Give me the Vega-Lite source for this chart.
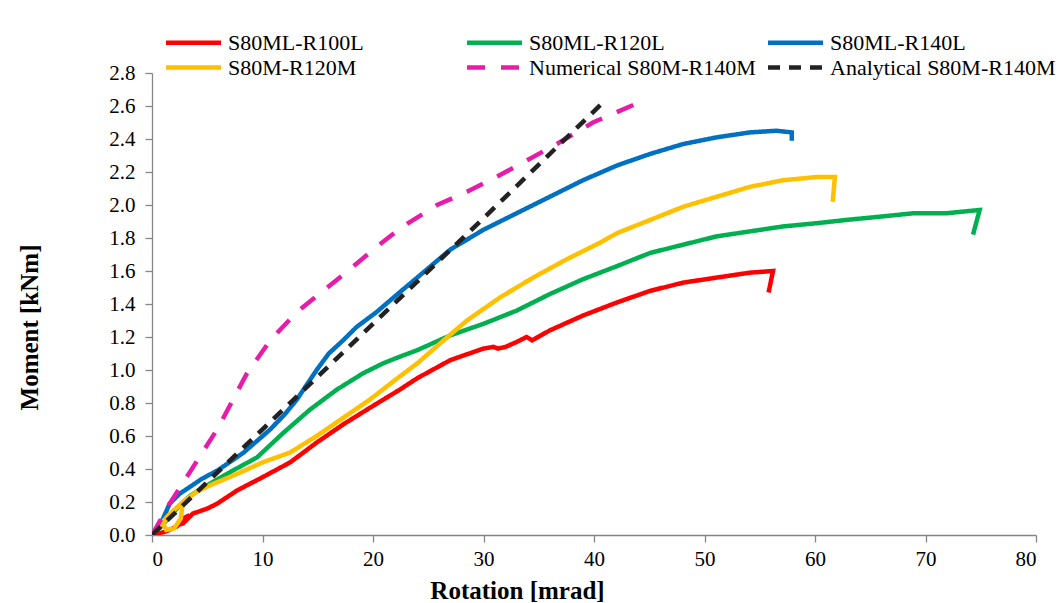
{
  "$schema": "https://vega.github.io/schema/vega-lite/v6.json",
  "width": 884,
  "height": 462,
  "autosize": {"type": "none"},
  "padding": {"left": 152, "top": 73, "right": 26, "bottom": 68},
  "background": "white",
  "config": {
    "view": {"stroke": null},
    "font": "Liberation Serif",
    "axis": {"grid": false, "domainColor": "#868686", "tickColor": "#868686", "domainWidth": 1.3, "tickWidth": 1.3, "tickSize": 7, "labelFont": "Liberation Serif", "labelFontSize": 21, "labelColor": "#000000", "titleFont": "Liberation Serif", "titleFontSize": 25, "titleFontWeight": "bold", "titleColor": "#000000"}
  },
  "data": {"values": [
    {"s":"S80ML-R100L","i":1,"x":0,"y":0},{"s":"S80ML-R100L","i":2,"x":1.2,"y":0.02},{"s":"S80ML-R100L","i":3,"x":2.2,"y":0.05},{"s":"S80ML-R100L","i":4,"x":3.0,"y":0.09},{"s":"S80ML-R100L","i":5,"x":3.4,"y":0.12},{"s":"S80ML-R100L","i":6,"x":2.8,"y":0.10},{"s":"S80ML-R100L","i":7,"x":2.3,"y":0.06},{"s":"S80ML-R100L","i":8,"x":2.8,"y":0.07},{"s":"S80ML-R100L","i":9,"x":3.7,"y":0.13},{"s":"S80ML-R100L","i":10,"x":5.0,"y":0.16},{"s":"S80ML-R100L","i":11,"x":5.9,"y":0.19},{"s":"S80ML-R100L","i":12,"x":7.7,"y":0.27},{"s":"S80ML-R100L","i":13,"x":10.0,"y":0.35},{"s":"S80ML-R100L","i":14,"x":12.5,"y":0.44},{"s":"S80ML-R100L","i":15,"x":14.9,"y":0.56},{"s":"S80ML-R100L","i":16,"x":17.3,"y":0.67},{"s":"S80ML-R100L","i":17,"x":19.7,"y":0.77},{"s":"S80ML-R100L","i":18,"x":22.4,"y":0.88},{"s":"S80ML-R100L","i":19,"x":24.0,"y":0.95},{"s":"S80ML-R100L","i":20,"x":27.0,"y":1.06},{"s":"S80ML-R100L","i":21,"x":30.0,"y":1.13},{"s":"S80ML-R100L","i":22,"x":30.9,"y":1.14},{"s":"S80ML-R100L","i":23,"x":31.3,"y":1.13},{"s":"S80ML-R100L","i":24,"x":32.0,"y":1.14},{"s":"S80ML-R100L","i":25,"x":33.0,"y":1.17},{"s":"S80ML-R100L","i":26,"x":33.9,"y":1.20},{"s":"S80ML-R100L","i":27,"x":34.4,"y":1.18},{"s":"S80ML-R100L","i":28,"x":36.0,"y":1.24},{"s":"S80ML-R100L","i":29,"x":39.0,"y":1.33},{"s":"S80ML-R100L","i":30,"x":42.1,"y":1.41},{"s":"S80ML-R100L","i":31,"x":45.1,"y":1.48},{"s":"S80ML-R100L","i":32,"x":48.1,"y":1.53},{"s":"S80ML-R100L","i":33,"x":51.1,"y":1.56},{"s":"S80ML-R100L","i":34,"x":54.1,"y":1.59},{"s":"S80ML-R100L","i":35,"x":56.2,"y":1.60},{"s":"S80ML-R100L","i":36,"x":55.8,"y":1.47},
    {"s":"S80ML-R120L","i":1,"x":0,"y":0},{"s":"S80ML-R120L","i":2,"x":0.8,"y":0.05},{"s":"S80ML-R120L","i":3,"x":1.6,"y":0.11},{"s":"S80ML-R120L","i":4,"x":2.5,"y":0.18},{"s":"S80ML-R120L","i":5,"x":3.5,"y":0.24},{"s":"S80ML-R120L","i":6,"x":5.2,"y":0.31},{"s":"S80ML-R120L","i":7,"x":7.3,"y":0.39},{"s":"S80ML-R120L","i":8,"x":9.5,"y":0.47},{"s":"S80ML-R120L","i":9,"x":11.9,"y":0.62},{"s":"S80ML-R120L","i":10,"x":14.3,"y":0.76},{"s":"S80ML-R120L","i":11,"x":16.7,"y":0.88},{"s":"S80ML-R120L","i":12,"x":19.1,"y":0.98},{"s":"S80ML-R120L","i":13,"x":20.9,"y":1.04},{"s":"S80ML-R120L","i":14,"x":22.4,"y":1.08},{"s":"S80ML-R120L","i":15,"x":24.0,"y":1.12},{"s":"S80ML-R120L","i":16,"x":27.0,"y":1.21},{"s":"S80ML-R120L","i":17,"x":30.0,"y":1.28},{"s":"S80ML-R120L","i":18,"x":33.0,"y":1.36},{"s":"S80ML-R120L","i":19,"x":36.0,"y":1.46},{"s":"S80ML-R120L","i":20,"x":39.0,"y":1.55},{"s":"S80ML-R120L","i":21,"x":42.1,"y":1.63},{"s":"S80ML-R120L","i":22,"x":45.1,"y":1.71},{"s":"S80ML-R120L","i":23,"x":48.1,"y":1.76},{"s":"S80ML-R120L","i":24,"x":51.1,"y":1.81},{"s":"S80ML-R120L","i":25,"x":54.1,"y":1.84},{"s":"S80ML-R120L","i":26,"x":57.1,"y":1.87},{"s":"S80ML-R120L","i":27,"x":60.2,"y":1.89},{"s":"S80ML-R120L","i":28,"x":62.9,"y":1.91},{"s":"S80ML-R120L","i":29,"x":66.0,"y":1.93},{"s":"S80ML-R120L","i":30,"x":68.9,"y":1.95},{"s":"S80ML-R120L","i":31,"x":71.9,"y":1.95},{"s":"S80ML-R120L","i":32,"x":74.9,"y":1.97},{"s":"S80ML-R120L","i":33,"x":74.3,"y":1.82},
    {"s":"S80ML-R140L","i":1,"x":0,"y":0},{"s":"S80ML-R140L","i":2,"x":0.5,"y":0.04},{"s":"S80ML-R140L","i":3,"x":1.0,"y":0.10},{"s":"S80ML-R140L","i":4,"x":1.6,"y":0.19},{"s":"S80ML-R140L","i":5,"x":2.5,"y":0.25},{"s":"S80ML-R140L","i":6,"x":3.4,"y":0.29},{"s":"S80ML-R140L","i":7,"x":4.5,"y":0.34},{"s":"S80ML-R140L","i":8,"x":5.9,"y":0.39},{"s":"S80ML-R140L","i":9,"x":7.0,"y":0.44},{"s":"S80ML-R140L","i":10,"x":8.3,"y":0.50},{"s":"S80ML-R140L","i":11,"x":9.5,"y":0.57},{"s":"S80ML-R140L","i":12,"x":10.7,"y":0.64},{"s":"S80ML-R140L","i":13,"x":12.0,"y":0.73},{"s":"S80ML-R140L","i":14,"x":13.1,"y":0.82},{"s":"S80ML-R140L","i":15,"x":14.9,"y":1.00},{"s":"S80ML-R140L","i":16,"x":16.0,"y":1.10},{"s":"S80ML-R140L","i":17,"x":17.3,"y":1.18},{"s":"S80ML-R140L","i":18,"x":18.5,"y":1.26},{"s":"S80ML-R140L","i":19,"x":20.3,"y":1.35},{"s":"S80ML-R140L","i":20,"x":22.4,"y":1.47},{"s":"S80ML-R140L","i":21,"x":24.0,"y":1.56},{"s":"S80ML-R140L","i":22,"x":27.0,"y":1.73},{"s":"S80ML-R140L","i":23,"x":30.0,"y":1.85},{"s":"S80ML-R140L","i":24,"x":33.0,"y":1.95},{"s":"S80ML-R140L","i":25,"x":36.0,"y":2.05},{"s":"S80ML-R140L","i":26,"x":39.0,"y":2.15},{"s":"S80ML-R140L","i":27,"x":42.1,"y":2.24},{"s":"S80ML-R140L","i":28,"x":45.1,"y":2.31},{"s":"S80ML-R140L","i":29,"x":48.1,"y":2.37},{"s":"S80ML-R140L","i":30,"x":51.1,"y":2.41},{"s":"S80ML-R140L","i":31,"x":54.1,"y":2.44},{"s":"S80ML-R140L","i":32,"x":56.5,"y":2.45},{"s":"S80ML-R140L","i":33,"x":57.9,"y":2.44},{"s":"S80ML-R140L","i":34,"x":57.9,"y":2.39},
    {"s":"S80M-R120M","i":1,"x":0,"y":0},{"s":"S80M-R120M","i":2,"x":0.7,"y":0.06},{"s":"S80M-R120M","i":3,"x":1.5,"y":0.12},{"s":"S80M-R120M","i":4,"x":2.3,"y":0.17},{"s":"S80M-R120M","i":5,"x":2.8,"y":0.20},{"s":"S80M-R120M","i":6,"x":2.6,"y":0.10},{"s":"S80M-R120M","i":7,"x":2.0,"y":0.04},{"s":"S80M-R120M","i":8,"x":1.3,"y":0.03},{"s":"S80M-R120M","i":9,"x":1.0,"y":0.07},{"s":"S80M-R120M","i":10,"x":1.8,"y":0.14},{"s":"S80M-R120M","i":11,"x":2.8,"y":0.20},{"s":"S80M-R120M","i":12,"x":4.0,"y":0.26},{"s":"S80M-R120M","i":13,"x":5.2,"y":0.30},{"s":"S80M-R120M","i":14,"x":7.7,"y":0.37},{"s":"S80M-R120M","i":15,"x":10.0,"y":0.44},{"s":"S80M-R120M","i":16,"x":12.5,"y":0.50},{"s":"S80M-R120M","i":17,"x":14.9,"y":0.60},{"s":"S80M-R120M","i":18,"x":17.3,"y":0.71},{"s":"S80M-R120M","i":19,"x":19.7,"y":0.82},{"s":"S80M-R120M","i":20,"x":22.4,"y":0.96},{"s":"S80M-R120M","i":21,"x":24.0,"y":1.04},{"s":"S80M-R120M","i":22,"x":26.4,"y":1.18},{"s":"S80M-R120M","i":23,"x":28.5,"y":1.30},{"s":"S80M-R120M","i":24,"x":31.5,"y":1.44},{"s":"S80M-R120M","i":25,"x":34.5,"y":1.56},{"s":"S80M-R120M","i":26,"x":37.5,"y":1.67},{"s":"S80M-R120M","i":27,"x":40.5,"y":1.77},{"s":"S80M-R120M","i":28,"x":42.1,"y":1.83},{"s":"S80M-R120M","i":29,"x":45.1,"y":1.91},{"s":"S80M-R120M","i":30,"x":48.1,"y":1.99},{"s":"S80M-R120M","i":31,"x":51.1,"y":2.05},{"s":"S80M-R120M","i":32,"x":54.1,"y":2.11},{"s":"S80M-R120M","i":33,"x":57.1,"y":2.15},{"s":"S80M-R120M","i":34,"x":60.2,"y":2.17},{"s":"S80M-R120M","i":35,"x":61.8,"y":2.17},{"s":"S80M-R120M","i":36,"x":61.6,"y":2.02},
    {"s":"Numerical S80M-R140M","i":1,"x":0,"y":0},{"s":"Numerical S80M-R140M","i":2,"x":1.6,"y":0.19},{"s":"Numerical S80M-R140M","i":3,"x":3.7,"y":0.41},{"s":"Numerical S80M-R140M","i":4,"x":5.9,"y":0.64},{"s":"Numerical S80M-R140M","i":5,"x":8.6,"y":0.98},{"s":"Numerical S80M-R140M","i":6,"x":10.7,"y":1.18},{"s":"Numerical S80M-R140M","i":7,"x":13.1,"y":1.35},{"s":"Numerical S80M-R140M","i":8,"x":15.5,"y":1.48},{"s":"Numerical S80M-R140M","i":9,"x":17.9,"y":1.61},{"s":"Numerical S80M-R140M","i":10,"x":20.4,"y":1.75},{"s":"Numerical S80M-R140M","i":11,"x":22.7,"y":1.87},{"s":"Numerical S80M-R140M","i":12,"x":25.8,"y":2.00},{"s":"Numerical S80M-R140M","i":13,"x":28.5,"y":2.08},{"s":"Numerical S80M-R140M","i":14,"x":30.9,"y":2.16},{"s":"Numerical S80M-R140M","i":15,"x":34.2,"y":2.28},{"s":"Numerical S80M-R140M","i":16,"x":36.9,"y":2.38},{"s":"Numerical S80M-R140M","i":17,"x":39.9,"y":2.50},{"s":"Numerical S80M-R140M","i":18,"x":43.7,"y":2.61},
    {"s":"Analytical S80M-R140M","i":1,"x":0,"y":0},{"s":"Analytical S80M-R140M","i":2,"x":10.0,"y":0.64},{"s":"Analytical S80M-R140M","i":3,"x":20.0,"y":1.28},{"s":"Analytical S80M-R140M","i":4,"x":30.0,"y":1.92},{"s":"Analytical S80M-R140M","i":5,"x":41.1,"y":2.64}
  ]},
  "mark": {"type": "line", "strokeWidth": 4.5, "clip": true},
  "encoding": {
    "x": {"field": "x", "type": "quantitative", "scale": {"domain": [0, 80], "nice": false}, "axis": {"values": [0,10,20,30,40,50,60,70,80], "title": "Rotation [mrad]", "titleX": 365, "titleY": 43, "labelPadding": 6}},
    "y": {"field": "y", "type": "quantitative", "scale": {"domain": [0, 2.8], "nice": false}, "axis": {"values": [0,0.2,0.4,0.6,0.8,1.0,1.2,1.4,1.6,1.8,2.0,2.2,2.4,2.6,2.8], "format": ".1f", "title": "Moment [kNm]", "titleX": -110, "titleY": 254, "labelPadding": 10}},
    "order": {"field": "i", "type": "quantitative"},
    "color": {"field": "s", "type": "nominal", "scale": {"domain": ["S80ML-R100L","S80ML-R120L","S80ML-R140L","S80M-R120M","Numerical S80M-R140M","Analytical S80M-R140M"], "range": ["#FF0000","#00B050","#0070C0","#FFC000","#E61CAA","#222222"]},
      "legend": {"title": null, "orient": "none", "legendX": 28, "legendY": -44, "columns": 3, "direction": "horizontal", "symbolType": "M-2.5,0H2.5", "symbolSize": 484, "symbolStrokeWidth": 4.5, "labelFont": "Liberation Serif", "labelFontSize": 22, "labelColor": "#000000", "labelOffset": 21, "gridAlign": "all", "columnPadding": 3, "rowPadding": -5, "labelLimit": 400}},
    "strokeDash": {"field": "s", "type": "nominal", "scale": {"domain": ["S80ML-R100L","S80ML-R120L","S80ML-R140L","S80M-R120M","Numerical S80M-R140M","Analytical S80M-R140M"], "range": [[1,0],[1,0],[1,0],[1,0],[18,16],[12,9]]}}
  }
}
